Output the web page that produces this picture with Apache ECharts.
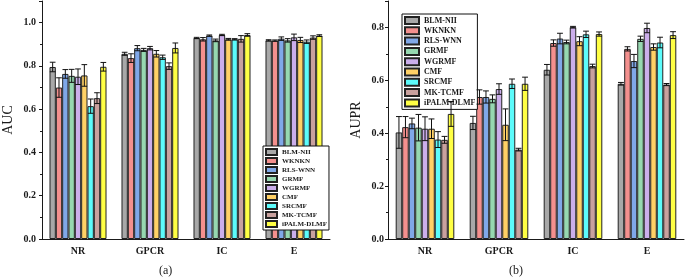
<!DOCTYPE html>
<html>
<head>
<meta charset="utf-8">
<script src="https://cdn.jsdelivr.net/npm/echarts@6/dist/echarts.min.js"></script>
<style>
  html, body { margin: 0; padding: 0; background: #fff; }
  #chart { width: 685px; height: 280px; }
</style>
</head>
<body>
<div id="chart"></div>
<script>
const categories = ['NR', 'GPCR', 'IC', 'E'];
const methods = ['BLM-NII', 'WKNKN', 'RLS-WNN', 'GRMF', 'WGRMF', 'CMF', 'SRCMF', 'MK-TCMF', 'iPALM-DLMF'];
const colors = ['#a8a8a8', '#f4908e', '#80a8e8', '#96d8b0', '#cbaeeb', '#ffd166', '#5cfbfb', '#c9a19e', '#ffff44'];

// AUC, one row per method: NR, GPCR, IC, E
const aucValues = [
  [0.795, 0.856, 0.929, 0.918],
  [0.700, 0.836, 0.923, 0.917],
  [0.763, 0.882, 0.940, 0.926],
  [0.754, 0.874, 0.918, 0.918],
  [0.750, 0.882, 0.943, 0.932],
  [0.756, 0.856, 0.923, 0.920],
  [0.614, 0.840, 0.923, 0.912],
  [0.651, 0.799, 0.925, 0.931],
  [0.796, 0.883, 0.943, 0.940]
];
const aucErrors = [
  [0.022, 0.007, 0.003, 0.003],
  [0.045, 0.020, 0.008, 0.003],
  [0.020, 0.012, 0.003, 0.008],
  [0.030, 0.007, 0.006, 0.008],
  [0.036, 0.008, 0.003, 0.015],
  [0.050, 0.015, 0.004, 0.012],
  [0.033, 0.010, 0.003, 0.008],
  [0.025, 0.015, 0.015, 0.008],
  [0.020, 0.023, 0.006, 0.004]
];

// AUPR
const auprValues = [
  [0.403, 0.439, 0.640, 0.587],
  [0.423, 0.537, 0.741, 0.719],
  [0.437, 0.537, 0.758, 0.673],
  [0.421, 0.530, 0.745, 0.757],
  [0.417, 0.567, 0.801, 0.798],
  [0.417, 0.432, 0.748, 0.726],
  [0.376, 0.587, 0.774, 0.743],
  [0.375, 0.338, 0.654, 0.584],
  [0.473, 0.587, 0.775, 0.771]
];
const auprErrors = [
  [0.060, 0.025, 0.020, 0.005],
  [0.040, 0.027, 0.012, 0.008],
  [0.020, 0.023, 0.020, 0.025],
  [0.050, 0.015, 0.007, 0.010],
  [0.045, 0.020, 0.003, 0.018],
  [0.037, 0.060, 0.017, 0.012],
  [0.030, 0.018, 0.012, 0.020],
  [0.013, 0.005, 0.007, 0.004],
  [0.047, 0.025, 0.008, 0.013]
];

const FONT = 'Liberation Serif';
const BAR_FRAC = 0.088;
const INK = '#1a1a1a';

const chart = echarts.init(document.getElementById('chart'));

function xAxes(gridIndex) {
  return [
    {
      type: 'category', gridIndex, data: categories,
      axisLine: { lineStyle: { color: INK, width: 1 } },
      axisTick: { alignWithLabel: true, length: 4, lineStyle: { color: INK } },
      axisLabel: { fontFamily: FONT, fontSize: 10, fontWeight: 'bold', color: INK, margin: 7 }
    },
    {
      type: 'category', gridIndex, data: categories, position: 'bottom',
      axisLine: { show: false },
      axisTick: { length: 2, lineStyle: { color: INK } },
      axisLabel: { show: false }
    }
  ];
}

function yAxis(gridIndex, max, name, nameGap, labelMargin) {
  return {
    type: 'value', gridIndex, min: 0, max, interval: 0.2,
    name, nameLocation: 'middle', nameGap,
    nameTextStyle: { fontFamily: FONT, fontSize: 14, color: INK },
    axisLine: { show: true, lineStyle: { color: INK, width: 1 } },
    axisTick: { show: true, length: 3, lineStyle: { color: INK } },
    minorTick: { show: true, splitNumber: 2, length: 2, lineStyle: { color: INK } },
    splitLine: { show: false },
    axisLabel: {
      fontFamily: FONT, fontSize: 10, fontWeight: 'bold', color: INK, margin: labelMargin,
      showMaxLabel: false, formatter: v => v.toFixed(1)
    }
  };
}

function barSeries(gridIndex, values) {
  return methods.map((m, i) => ({
    name: m, type: 'bar',
    xAxisIndex: gridIndex * 2, yAxisIndex: gridIndex,
    barWidth: (BAR_FRAC * 100) + '%', barGap: '0%',
    itemStyle: { color: colors[i], borderColor: '#222', borderWidth: 1 },
    data: values[i]
  }));
}

function errorSeries(gridIndex, values, errors) {
  const data = [];
  values.forEach((row, m) => row.forEach((v, c) => data.push([c, v, errors[m][c], m])));
  return {
    type: 'custom', xAxisIndex: gridIndex * 2, yAxisIndex: gridIndex, z: 10, silent: true,
    encode: { x: 0, y: 1 },
    renderItem(params, api) {
      const c = api.value(0), v = api.value(1), e = api.value(2), m = api.value(3);
      const bw = api.size([1, 0])[0] * BAR_FRAC;
      const x = api.coord([c, v])[0] + (m - (methods.length - 1) / 2) * bw;
      const top = api.coord([c, v + e])[1];
      const bot = api.coord([c, v - e])[1];
      const hw = bw * 0.45;
      const style = { stroke: '#111', lineWidth: 1 };
      return {
        type: 'group', children: [
          { type: 'line', shape: { x1: x, y1: top, x2: x, y2: bot }, style },
          { type: 'line', shape: { x1: x - hw, y1: top, x2: x + hw, y2: top }, style },
          { type: 'line', shape: { x1: x - hw, y1: bot, x2: x + hw, y2: bot }, style }
        ]
      };
    },
    data
  };
}

function legend(left, top, itemW, itemH, fontSize, gap) {
  return {
    data: methods, orient: 'vertical', left, top, icon: 'rect',
    itemWidth: itemW, itemHeight: itemH, itemGap: gap,
    padding: [2, 2], backgroundColor: '#fff',
    borderColor: '#111', borderWidth: 1, borderRadius: 0,
    textStyle: { fontFamily: FONT, fontSize, fontWeight: 'bold', color: INK, lineHeight: fontSize }
  };
}

chart.setOption({
  animation: false,
  backgroundColor: '#fff',
  grid: [
    { left: 34, top: 1, width: 296, bottom: 41 },
    { left: 388, top: 1, width: 296, bottom: 41 }
  ],
  xAxis: [...xAxes(0), ...xAxes(1)],
  yAxis: [yAxis(0, 1.1, 'AUC', 27, 6), yAxis(1, 0.9, 'AUPR', 25, 4)],
  legend: [legend(263, 146, 11, 6, 7, 1), legend(402, 14, 14, 7, 8, 1.3)],
  series: [
    ...barSeries(0, aucValues), errorSeries(0, aucValues, aucErrors),
    ...barSeries(1, auprValues), errorSeries(1, auprValues, auprErrors)
  ],
  graphic: [
    { type: 'text', left: 159, top: 265, style: { text: '(a)', fontFamily: FONT, fontSize: 12, fill: INK } },
    { type: 'text', left: 509, top: 265, style: { text: '(b)', fontFamily: FONT, fontSize: 12, fill: INK } }
  ]
});
</script>
</body>
</html>
